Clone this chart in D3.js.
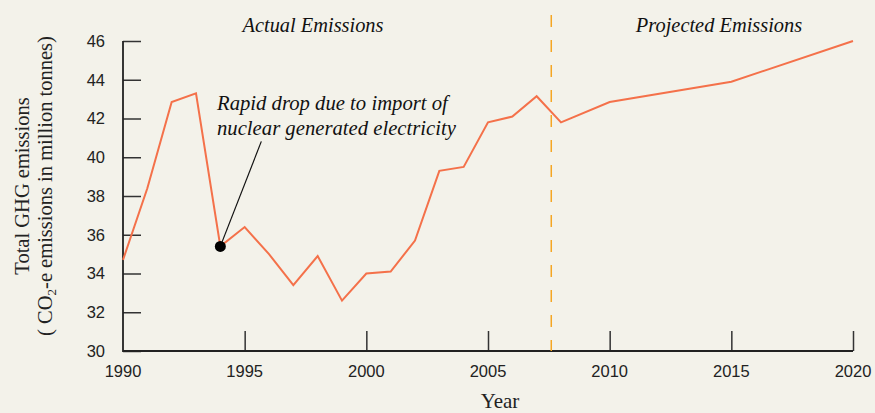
<!DOCTYPE html>
<html>
<head>
<meta charset="utf-8">
<script src="https://cdn.jsdelivr.net/npm/d3@7"></script>
<style>
  body { margin: 0; background: #f3f2ea; }
  svg { display: block; }
</style>
</head>
<body>
<div id="chart"></div>
<script>
// chart data
var years = [1990, 1991, 1992, 1993, 1994, 1995, 1996, 1997, 1998, 1999, 2000, 2001, 2002, 2003, 2004, 2005, 2006, 2007, 2008, 2010, 2015, 2020];
var emissions = [34.7, 38.4, 42.85, 43.3, 35.4, 36.4, 35.0, 33.4, 34.9, 32.6, 34.0, 34.1, 35.7, 39.3, 39.5, 41.8, 42.1, 43.15, 41.8, 42.85, 43.9, 46.0];
var yTicks = [30, 32, 34, 36, 38, 40, 42, 44, 46];
var xTicks = [1990, 1995, 2000, 2005, 2010, 2015, 2020];
var splitYear = 2007.6;
var noteYear = 1994;

function init() {
    var w = 875;
    var h = 413;
    var margin = { top: 41, right: 22, bottom: 62, left: 123 };
    var width = w - margin.left - margin.right;
    var height = h - margin.top - margin.bottom;

    var svg = d3.select("#chart")
        .append("svg")
        .attr("width", w)
        .attr("height", h);

    svg.append("rect")
        .attr("width", w)
        .attr("height", h)
        .attr("fill", "#f3f2ea");

    var g = svg.append("g")
        .attr("transform", `translate(${margin.left}, ${margin.top})`);

    var xScale = d3.scaleLinear()
        .domain([1990, 2020])
        .range([0, width]);

    var yScale = d3.scaleLinear()
        .domain([30, 46])
        .range([height, 0]);

    // y ticks point inward (to the right)
    var yAxis = g.append("g")
        .call(d3.axisRight(yScale).tickValues(yTicks).tickSize(18).tickFormat(""));
    yAxis.select(".domain").remove();
    yAxis.selectAll("line").attr("stroke", "#333").attr("stroke-width", 1.5);

    g.selectAll(".ylab")
        .data(yTicks)
        .enter()
        .append("text")
        .attr("class", "ylab")
        .attr("x", -18)
        .attr("y", d => yScale(d))
        .attr("dy", "0.35em")
        .attr("text-anchor", "end")
        .style("font-family", "Liberation Sans, Arial, sans-serif")
        .style("font-size", "16.5px")
        .style("fill", "#222")
        .text(d => d);

    // x ticks point upward
    var xAxis = g.append("g")
        .attr("transform", `translate(0,${height})`)
        .call(d3.axisTop(xScale).tickValues(xTicks.slice(1)).tickSize(20).tickFormat(""));
    xAxis.select(".domain").remove();
    xAxis.selectAll("line").attr("stroke", "#333").attr("stroke-width", 1.5);

    g.selectAll(".xlab")
        .data(xTicks)
        .enter()
        .append("text")
        .attr("class", "xlab")
        .attr("x", d => xScale(d))
        .attr("y", height + 26)
        .attr("text-anchor", "middle")
        .style("font-family", "Liberation Sans, Arial, sans-serif")
        .style("font-size", "16.5px")
        .style("fill", "#222")
        .text(d => d);

    // axis lines
    g.append("path")
        .attr("d", `M0,${yScale(46)}V${height}H${xScale(2020)}`)
        .attr("fill", "none")
        .attr("stroke", "#222")
        .attr("stroke-width", 1.8);

    // split between actual and projected
    g.append("line")
        .attr("x1", xScale(splitYear))
        .attr("x2", xScale(splitYear))
        .attr("y1", -26)
        .attr("y2", height)
        .attr("stroke", "#f5a623")
        .attr("stroke-width", 1.5)
        .attr("stroke-dasharray", "12,13");

    var data = years.map((y, i) => ({ year: y, value: emissions[i] }));

    var line = d3.line()
        .x(d => xScale(d.year))
        .y(d => yScale(d.value));

    g.append("path")
        .datum(data)
        .attr("d", line)
        .attr("fill", "none")
        .attr("stroke", "#f4714a")
        .attr("stroke-width", 2);

    // annotation
    var note = data.find(d => d.year === noteYear);
    g.append("line")
        .attr("x1", xScale(note.year))
        .attr("y1", yScale(note.value))
        .attr("x2", xScale(note.year) + 41)
        .attr("y2", yScale(note.value) - 105)
        .attr("stroke", "#111")
        .attr("stroke-width", 1.2);

    g.append("circle")
        .attr("cx", xScale(note.year))
        .attr("cy", yScale(note.value))
        .attr("r", 5.5)
        .attr("fill", "#000");

    var serif = "Liberation Serif, Times New Roman, serif";

    var noteText = g.append("text")
        .attr("x", 94)
        .attr("y", 69)
        .style("font-family", serif)
        .style("font-style", "italic")
        .style("font-size", "20.7px")
        .style("fill", "#111");
    noteText.append("tspan").attr("x", 94).text("Rapid drop due to import of");
    noteText.append("tspan").attr("x", 94).attr("dy", 25).text("nuclear generated electricity");

    g.append("text")
        .attr("x", 190)
        .attr("y", -9)
        .attr("text-anchor", "middle")
        .style("font-family", serif)
        .style("font-style", "italic")
        .style("font-size", "20.4px")
        .style("fill", "#111")
        .text("Actual Emissions");

    g.append("text")
        .attr("x", 596)
        .attr("y", -9)
        .attr("text-anchor", "middle")
        .style("font-family", serif)
        .style("font-style", "italic")
        .style("font-size", "20.4px")
        .style("fill", "#111")
        .text("Projected Emissions");

    // X Axis Label
    svg.append("text")
        .attr("text-anchor", "middle")
        .attr("x", 500)
        .attr("y", 408)
        .style("font-family", serif)
        .style("font-size", "21px")
        .style("fill", "#222")
        .text("Year");

    // Y Axis Label
    var yl = svg.append("text")
        .attr("text-anchor", "middle")
        .attr("transform", "translate(29,186) rotate(-90)")
        .style("font-family", serif)
        .style("font-size", "20.5px")
        .style("fill", "#222");
    yl.append("tspan").attr("x", 0).attr("y", 0).text("Total GHG emissions");
    var l2 = yl.append("tspan").attr("x", 0).attr("y", 23);
    l2.append("tspan").text("( CO");
    l2.append("tspan").attr("dy", 4).style("font-size", "13px").text("2");
    l2.append("tspan").attr("dy", -4).text("-e emissions in million tonnes)");
}

window.onload = init;
</script>
</body>
</html>
